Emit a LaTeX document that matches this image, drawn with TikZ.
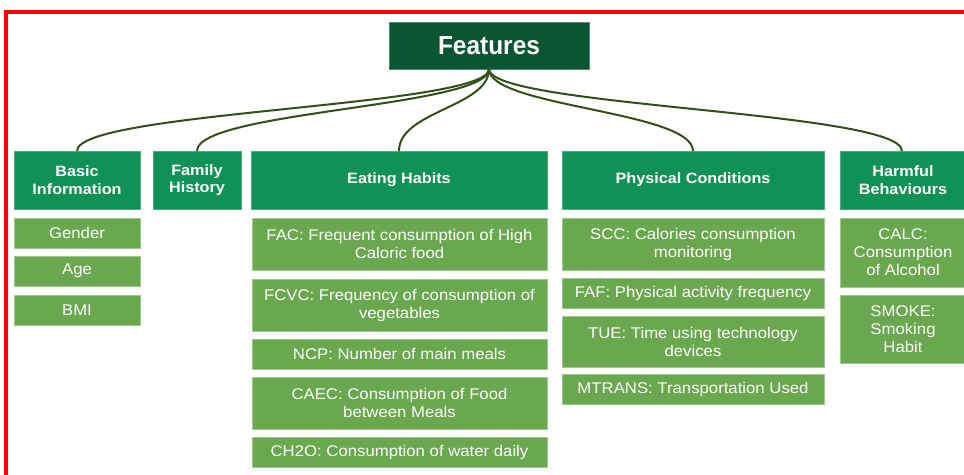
\documentclass[tikz,border=0pt]{standalone}
\usepackage{fontspec}
\setmainfont{Liberation Sans}[FakeStretch=1.08]
\newfontfamily\featfont{Liberation Sans}[FakeStretch=0.94]
\begin{document}
\begin{tikzpicture}[x=1pt,y=-1pt,
  every node/.style={inner sep=0pt,outer sep=0pt,anchor=north west,align=center,text=white},
  topbox/.style={fill=featgreen,draw=featgreen!70!white,line width=0.6pt,font=\featfont\fontsize{26}{28}\selectfont\bfseries},
  catbox/.style={fill=catgreen,draw=catgreen!75!white,line width=0.6pt,font=\fontsize{15}{17.5}\selectfont\bfseries},
  subbox/.style={fill=subgreen,draw=subgreen!65!white,line width=0.6pt,font=\fontsize{15.5}{18}\selectfont},
  conn/.style={draw=linegreen,line width=2pt}]
\definecolor{featgreen}{HTML}{0B5632}
\definecolor{catgreen}{HTML}{109155}
\definecolor{subgreen}{HTML}{6AA84F}
\definecolor{linegreen}{HTML}{2F5016}
\definecolor{framered}{HTML}{FF0000}
\useasboundingbox (0,0) rectangle (964,474);
\begin{scope}
\clip (0,0) rectangle (964,474);
\draw[framered,line width=4pt] (6,12) rectangle (975,490);
\end{scope}
% top
\node[topbox,minimum width=200pt,minimum height=47pt] (feat) at (389,22) {Features};
% categories
\node[catbox,minimum width=126pt,minimum height=58pt] (basic) at (14,151) {Basic\\Information};
\node[catbox,minimum width=88pt,minimum height=58pt] (family) at (153,151) {Family\\History};
\node[catbox,minimum width=296pt,minimum height=58pt] (eating) at (251,151) {Eating Habits};
\node[catbox,minimum width=262pt,minimum height=58pt] (phys) at (562,151) {Physical Conditions};
\node[catbox,minimum width=126pt,minimum height=58pt] (harm) at (840,151) {Harmful\\Behaviours};
% basic
\node[subbox,minimum width=126pt,minimum height=30pt] (gender) at (14,218) {Gender};
\node[subbox,minimum width=126pt,minimum height=30pt] (age) at (14,256) {Age};
\node[subbox,minimum width=126pt,minimum height=30pt] (bmi) at (14,295) {BMI};
% eating
\node[subbox,minimum width=295pt,minimum height=52pt] (fac) at (252,218) {FAC: Frequent consumption of High\\Caloric food};
\node[subbox,minimum width=295pt,minimum height=52pt] (fcvc) at (252,279) {FCVC: Frequency of consumption of\\vegetables};
\node[subbox,minimum width=295pt,minimum height=30pt] (ncp) at (252,339) {NCP: Number of main meals};
\node[subbox,minimum width=295pt,minimum height=52pt] (caec) at (252,377) {CAEC: Consumption of Food\\between Meals};
\node[subbox,minimum width=295pt,minimum height=30pt] (ch2o) at (252,437) {CH2O: Consumption of water daily};
% physical
\node[subbox,minimum width=262pt,minimum height=52pt] (scc) at (562,218) {SCC: Calories consumption\\monitoring};
\node[subbox,minimum width=262pt,minimum height=30pt] (faf) at (562,278) {FAF: Physical activity frequency};
\node[subbox,minimum width=262pt,minimum height=51pt] (tue) at (562,316) {TUE: Time using technology\\devices};
\node[subbox,minimum width=262pt,minimum height=30pt] (mtrans) at (562,374) {MTRANS: Transportation Used};
% harmful
\node[subbox,minimum width=126pt,minimum height=69pt] (calc) at (840,218) {CALC:\\Consumption\\of Alcohol};
\node[subbox,minimum width=126pt,minimum height=68pt] (smoke) at (840,295) {SMOKE:\\Smoking\\Habit};
% connectors
\coordinate (fs) at (feat.south);
\draw[conn] (fs) .. controls +(0,38) and +(0,-40) .. ([xshift=-63pt]basic.north east);
\draw[conn] (fs) .. controls +(0,38) and +(0,-40) .. (family.north);
\draw[conn] (fs) .. controls +(0,38) and +(0,-40) .. ([xshift=-148pt]eating.north east);
\draw[conn] (fs) .. controls +(0,38) and +(0,-40) .. ([xshift=-131pt]phys.north east);
\draw[conn] (fs) .. controls +(0,38) and +(0,-40) .. ([xshift=-64pt]harm.north east);
\end{tikzpicture}
\end{document}
